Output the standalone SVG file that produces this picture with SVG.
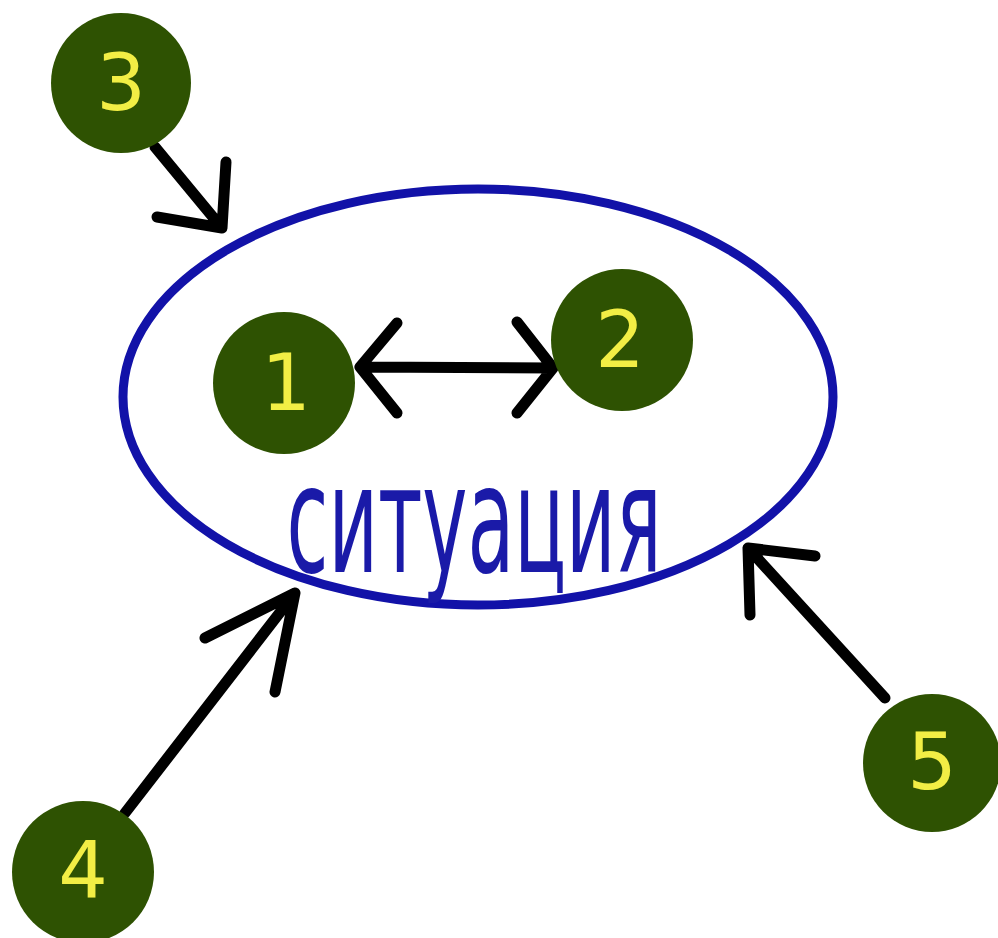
<svg xmlns="http://www.w3.org/2000/svg" width="998" height="938" viewBox="0 0 998 938">
<style>
.node circle{fill:#2e5202}
.node text{fill:#f2ee45;font-family:"DejaVu Sans",Verdana,sans-serif;font-size:78px;text-anchor:middle}
.conn path{fill:none;stroke:#000;stroke-width:11;stroke-linecap:round;stroke-linejoin:round}
</style>
<rect width="998" height="938" fill="#fff"/>
<g id="situation">
<ellipse cx="478" cy="397" rx="355" ry="208" fill="none" stroke="#1212a8" stroke-width="9"/>
<text x="474" y="572" textLength="375" lengthAdjust="spacingAndGlyphs" text-anchor="middle" font-family="'DejaVu Sans Condensed','DejaVu Sans',sans-serif" font-size="150" fill="#1a1aa8">ситуация</text>
</g>
<g class="conn" id="connectors">
<path d="M155 147 L222 228 M226 162 L222 228 L157 217"/>
<path d="M125 813 L295 593 M205 638 L295 593 L275 692"/>
<path d="M885 698 L748 548 M815 556 L748 548 L750 615"/>
<path d="M360 367 L553 368 M397 323 L360 367 L397 413 M517 322 L553 368 L517 413"/>
</g>
<g class="node" id="node1"><circle cx="284" cy="383" r="71"/><text x="286" y="410">1</text></g>
<g class="node" id="node2"><circle cx="622" cy="340" r="71"/><text x="620" y="367">2</text></g>
<g class="node" id="node3"><circle cx="121" cy="83" r="70"/><text x="121" y="110">3</text></g>
<g class="node" id="node4"><circle cx="83" cy="872" r="71"/><text x="83" y="898">4</text></g>
<g class="node" id="node5"><circle cx="932" cy="763" r="69"/><text x="932" y="789">5</text></g>
</svg>
